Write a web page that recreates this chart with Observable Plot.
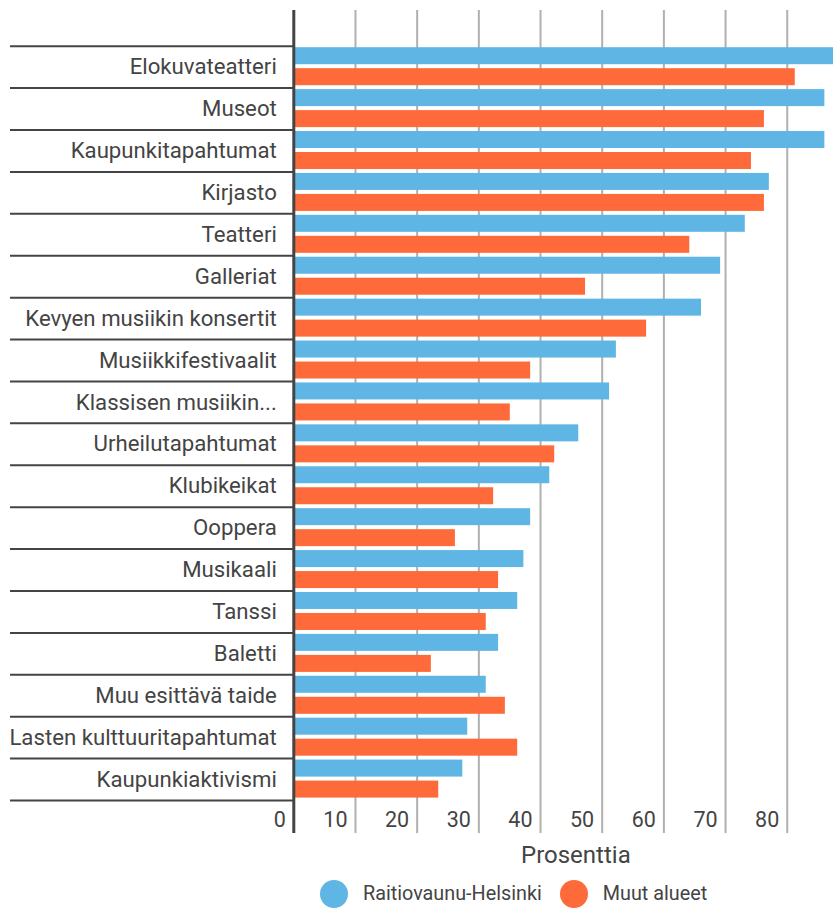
<!DOCTYPE html>
<html>
<head>
<meta charset="utf-8">
<script src="https://cdn.jsdelivr.net/npm/d3@7"></script>
<script src="https://cdn.jsdelivr.net/npm/@observablehq/plot@0.6"></script>
<style>
  html, body { margin: 0; padding: 0; background: #fff; }
  #wrap { position: relative; width: 833px; height: 908px; font-family: Roboto, sans-serif; color: #444; }
  #xlabel { position: absolute; left: 0; width: 833px; top: 841px; font-size: 24px; line-height: 28px; }
  #xlabel span { position: absolute; left: 521px; }
  #legend { position: absolute; left: 320px; top: 879px; display: flex; align-items: center; font-size: 19.8px; line-height: 30px; }
  .sw { width: 28px; height: 28px; border-radius: 50%; display: inline-block; margin-right: 15px; }
  .item { display: flex; align-items: center; margin-right: 18px; }
</style>
</head>
<body>
<div id="wrap">
  <div id="chart"></div>
  <div id="xlabel"><span>Prosenttia</span></div>
  <div id="legend"></div>
</div>
<script>
const categories = [
  "Elokuvateatteri", "Museot", "Kaupunkitapahtumat", "Kirjasto", "Teatteri",
  "Galleriat", "Kevyen musiikin konsertit", "Musiikkifestivaalit", "Klassisen musiikin...",
  "Urheilutapahtumat", "Klubikeikat", "Ooppera", "Musikaali", "Tanssi", "Baletti",
  "Muu esittävä taide", "Lasten kulttuuritapahtumat", "Kaupunkiaktivismi"
];
const helsinki = [89, 86.1, 86.1, 77.1, 73.2, 69.2, 66.1, 52.3, 51.2, 46.2, 41.5, 38.4, 37.3, 36.3, 33.2, 31.2, 28.2, 27.4];
const muut =     [81.3, 76.3, 74.2, 76.3, 64.2, 47.3, 57.2, 38.4, 35.1, 42.3, 32.4, 26.2, 33.2, 31.2, 22.3, 34.3, 36.3, 23.5];
const seriesNames = ["Raitiovaunu-Helsinki", "Muut alueet"];
const seriesColors = ["#5fb6e4", "#fe6a39"];
const ticks = [0, 10, 20, 30, 40, 50, 60, 70, 80];

const rows = categories.flatMap((c, i) => [
  {category: c, series: seriesNames[0], value: helsinki[i]},
  {category: c, series: seriesNames[1], value: muut[i]}
]);

const W = 833, H = 840;
const mTop = 10, mBottom = 7, mLeft = 10;
const axisX0 = 293.3;
const yInsetTop = 35.7, yInsetBottom = 33;
const rowH = (H - mTop - mBottom - yInsetTop - yInsetBottom) / categories.length;
const ink = "#444";

const plot = Plot.plot({
  width: W,
  height: H,
  marginTop: mTop,
  marginBottom: mBottom,
  marginLeft: mLeft,
  marginRight: 0,
  style: {fontFamily: "Roboto, sans-serif", fontSize: "21px", color: ink, background: "#fff"},
  x: {domain: [0, 87.5], insetLeft: axisX0 - mLeft, axis: null},
  y: {domain: categories, padding: 0, round: false, insetTop: yInsetTop, insetBottom: yInsetBottom, axis: null},
  color: {domain: seriesNames, range: seriesColors},
  marks: [
    Plot.ruleX(ticks.filter(t => t > 0), {stroke: "#b0b0b0", strokeWidth: 2}),
    Plot.barX(rows.filter(d => d.series === seriesNames[0]), {
      y: "category", x: "value", fill: "series", insetTop: 1.5, insetBottom: rowH - 18.5, clip: true
    }),
    Plot.barX(rows.filter(d => d.series === seriesNames[1]), {
      y: "category", x: "value", fill: "series", insetTop: 22.5, insetBottom: rowH - 39.5, clip: true
    }),
    Plot.ruleY(categories, {y: d => d, dy: -rowH / 2, insetRight: W - axisX0, stroke: ink, strokeWidth: 2}),
    Plot.ruleY(categories.slice(-1), {y: d => d, dy: rowH / 2, insetRight: W - axisX0, stroke: ink, strokeWidth: 2}),
    Plot.ruleX([0], {stroke: ink, strokeWidth: 3}),
    Plot.text(categories, {y: d => d, x: () => 0, dx: -17, textAnchor: "end", fontSize: 22.2, fill: ink}),
    Plot.text(ticks, {x: d => d, frameAnchor: "bottom", lineAnchor: "middle", dy: -13, dx: -8, textAnchor: "end", fontSize: 21.5, fill: ink})
  ]
});
document.getElementById("chart").appendChild(plot);

const legend = document.getElementById("legend");
seriesNames.forEach((name, i) => {
  const item = document.createElement("div");
  item.className = "item";
  const sw = document.createElement("span");
  sw.className = "sw";
  sw.style.background = seriesColors[i];
  item.appendChild(sw);
  item.appendChild(document.createTextNode(name));
  legend.appendChild(item);
});
</script>
</body>
</html>
